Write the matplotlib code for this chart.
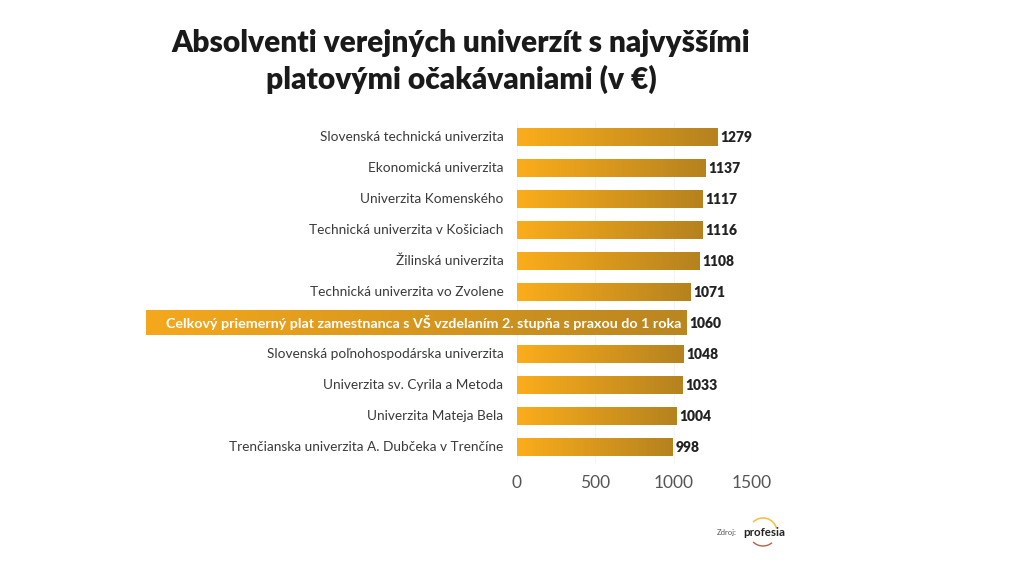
import numpy as np
import matplotlib.pyplot as plt
from matplotlib.colors import LinearSegmentedColormap
from matplotlib.patches import Arc

plt.rcParams['font.family'] = ['Lato', 'DejaVu Sans']

universities = ['Slovenská technická univerzita', 'Ekonomická univerzita', 'Univerzita Komenského',
                'Technická univerzita v Košiciach', 'Žilinská univerzita', 'Technická univerzita vo Zvolene',
                'Celkový priemerný plat zamestnanca s VŠ vzdelaním 2. stupňa s praxou do 1 roka',
                'Slovenská poľnohospodárska univerzita', 'Univerzita sv. Cyrila a Metoda',
                'Univerzita Mateja Bela', 'Trenčianska univerzita A. Dubčeka v Trenčíne']
salaries = [1279, 1137, 1117, 1116, 1108, 1071, 1060, 1048, 1033, 1004, 998]
# the drawn bars don't follow the printed numbers, lengths
bar_lengths = [1277, 1200, 1181, 1181, 1162, 1105, 1080, 1060, 1054, 1016, 990]
highlight = 6
ticks = [0, 500, 1000, 1500]

W, H = 1024, 571
fig = plt.figure(figsize=(W / 100, H / 100), dpi=100)
ax = fig.add_axes([516.5 / W, 1 - 462.5 / H, 235.5 / W, 341 / H])

grad = np.linspace(0, 1, 256).reshape(1, -1)
cmap = LinearSegmentedColormap.from_list('bar', ['#FBAD1B', '#B5821F'])
cmap2 = LinearSegmentedColormap.from_list('bar2', ['#F5A81C', '#B98620'])
text_col = '#3a3a3a'

for i, (name, val, length) in enumerate(zip(universities, salaries, bar_lengths)):
    if i == highlight:
        # this row runs under the labels, out of the plot area
        ax.imshow(grad, extent=[-2360, length, i + 0.4, i - 0.4], aspect='auto', cmap=cmap2,
                  clip_on=False, zorder=2)
        ax.text(length - 32, i, name, ha='right', va='center', color='white', fontsize=10.3,
                fontweight='bold', zorder=3)
    else:
        ax.imshow(grad, extent=[0, length, i + 0.28, i - 0.28], aspect='auto', cmap=cmap, zorder=2)
        ax.text(-84, i, name, ha='right', va='center', color=text_col, fontsize=9.85)
    ax.text(length + 22, i + 0.02, str(val), ha='left', va='center', color='#222222', fontsize=10,
            fontweight='heavy')

ax.set_xlim(0, 1500)
ax.set_ylim(10.5, -0.5)
ax.set_xticks(ticks)
ax.set_yticks([])
ax.tick_params(axis='x', length=0, pad=9, labelsize=12.5, labelcolor='#555555')
ax.grid(axis='x', color='#f4f4f4', lw=0.8, zorder=0)
ax.set_axisbelow(True)
for s in ax.spines.values():
    s.set_visible(False)

fig.text(461 / W, 1 - 43 / H, 'Absolventi verejných univerzít s najvyššími', ha='center', va='center',
         fontsize=21.5, fontweight='heavy', color='#1a1a1a')
fig.text(461 / W, 1 - 79 / H, 'platovými očakávaniami (v €)', ha='center', va='center',
         fontsize=21.5, fontweight='heavy', color='#1a1a1a')

# source + logo
fig.text(717 / W, 1 - 532 / H, 'Zdroj:', ha='left', va='center', fontsize=5.5, color='#555555')
fig.text(743 / W, 1 - 532 / H, 'profesia', ha='left', va='center', fontsize=8.3, fontweight='bold',
         color='#222222')
logo = fig.add_axes([0, 0, 1, 1], facecolor='none')
logo.set_xlim(0, W)
logo.set_ylim(H, 0)
logo.axis('off')
logo.add_patch(Arc((763, 532), 28, 28, theta1=225, theta2=345, color='#F2C14E', lw=1.2))
logo.add_patch(Arc((763, 532), 28, 28, theta1=50, theta2=135, color='#B5604A', lw=1.0))

fig.savefig('out.png', dpi=100)
